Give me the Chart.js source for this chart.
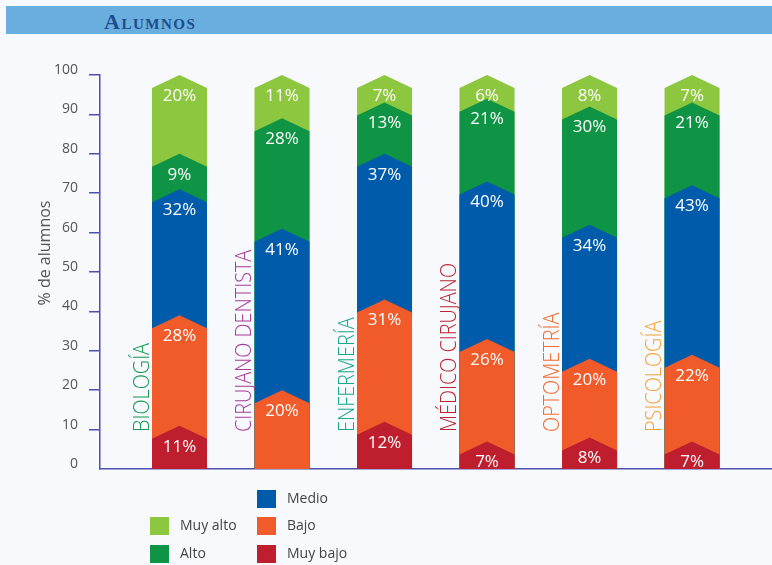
<!DOCTYPE html>
<html>
<head>
<meta charset="utf-8">
<script src="https://cdn.jsdelivr.net/npm/chart.js@4.4.0/dist/chart.umd.min.js"></script>
<style>
  html, body { margin: 0; padding: 0; }
  body { width: 772px; height: 565px; background: #f7f9fc; position: relative; overflow: hidden; }
  #title { position: absolute; left: 6px; top: 6px; width: 766px; height: 28px; background: #6aaddf; }
  #title span { position: absolute; left: 98px; top: 2px; line-height: 28px; font-family: 'Liberation Serif', serif; font-weight: bold; font-variant: small-caps; font-size: 22px; color: #1b4d8c; letter-spacing: 1.5px; }
  canvas { position: absolute; left: 0; top: 0; }
</style>
</head>
<body>
<div id="title"><span>Alumnos</span></div>
<canvas id="chart" width="772" height="565"></canvas>
<script>
// Data
const carreras = ['BIOLOGÍA', 'CIRUJANO DENTISTA', 'ENFERMERÍA', 'MÉDICO CIRUJANO', 'OPTOMETRÍA', 'PSICOLOGÍA'];
const muyBajo = [11, 0, 12, 7, 8, 7];
const bajo    = [28, 20, 31, 26, 20, 22];
const medio   = [32, 41, 37, 40, 34, 43];
const alto    = [9, 28, 13, 21, 30, 21];
const muyAlto = [20, 11, 7, 6, 8, 7];
const yTicks  = [0, 10, 20, 30, 40, 50, 60, 70, 80, 90, 100];

// Styles
const axisColor = '#4f4fae';
const labelColors = ['#16994f', '#a7399b', '#19a68a', '#b8252f', '#f26a2c', '#f7a23a'];
const chevron = 13;
// legend slots: [x, y] of each colour square, by dataset index
const legendSlots = [[257, 545], [257, 517], [257, 490], [150, 545], [150, 517]];

Chart.defaults.font.family = "'Open Sans', sans-serif";

const toPoints = arr => arr.map((v, i) => ({ x: i, y: v }));

const chevronPlugin = {
    id: 'chevronBars',
    beforeDatasetsDraw(chart) {
        const ctx = chart.ctx;
        const bottom = chart.scales.y.getPixelForValue(0);
        const sets = chart.data.datasets;
        ctx.save();
        // paint from the top segment down, so each lower chevron covers the one above
        for (let d = sets.length - 1; d >= 0; d--) {
            const meta = chart.getDatasetMeta(d);
            meta.data.forEach((bar, i) => {
                if (!sets[d].data[i].y) return;
                const half = bar.width / 2;
                ctx.beginPath();
                ctx.moveTo(bar.x - half, bar.y + chevron);
                ctx.lineTo(bar.x, bar.y);
                ctx.lineTo(bar.x + half, bar.y + chevron);
                ctx.lineTo(bar.x + half, bottom);
                ctx.lineTo(bar.x - half, bottom);
                ctx.closePath();
                ctx.fillStyle = sets[d].backgroundColor;
                ctx.fill();
            });
        }
        // value labels
        ctx.fillStyle = '#ffffff';
        ctx.font = "17px 'Open Sans', sans-serif";
        ctx.textAlign = 'center';
        ctx.textBaseline = 'middle';
        sets.forEach((ds, d) => {
            chart.getDatasetMeta(d).data.forEach((bar, i) => {
                const v = ds.data[i].y;
                if (!v) return;
                ctx.fillText(v + '%', bar.x, bar.y + 21);
            });
        });
        ctx.restore();
        return false;
    },
    afterDraw(chart) {
        const ctx = chart.ctx;
        const xs = chart.scales.x;
        ctx.save();
        // career names, vertical, left of each bar
        ctx.font = "300 22px 'Open Sans', sans-serif";
        ctx.textAlign = 'left';
        ctx.textBaseline = 'middle';
        carreras.forEach((name, i) => {
            const x = xs.getPixelForValue(i) - 37;
            ctx.save();
            ctx.translate(x, 432);
            ctx.rotate(-Math.PI / 2);
            ctx.scale(0.9, 1);
            ctx.fillStyle = labelColors[i];
            ctx.fillText(name, 0, 0);
            ctx.restore();
        });
        // y axis title
        ctx.save();
        ctx.translate(45, 253);
        ctx.rotate(-Math.PI / 2);
        ctx.fillStyle = '#555555';
        ctx.font = "16px 'Open Sans', sans-serif";
        ctx.textAlign = 'center';
        ctx.fillText('% de alumnos', 0, 0);
        ctx.restore();
        // legend
        ctx.font = "14px 'Open Sans', sans-serif";
        ctx.textAlign = 'left';
        chart.data.datasets.forEach((ds, d) => {
            const [lx, ly] = legendSlots[d];
            ctx.fillStyle = ds.backgroundColor;
            ctx.fillRect(lx, ly, 19, 18);
            ctx.fillStyle = '#444444';
            ctx.fillText(ds.label, lx + 30, ly + 9);
        });
        ctx.restore();
    }
};

new Chart(document.getElementById('chart'), {
    type: 'bar',
    data: {
        datasets: [
            { label: 'Muy bajo', data: toPoints(muyBajo), backgroundColor: '#be1e2d' },
            { label: 'Bajo', data: toPoints(bajo), backgroundColor: '#f15a29' },
            { label: 'Medio', data: toPoints(medio), backgroundColor: '#005baa' },
            { label: 'Alto', data: toPoints(alto), backgroundColor: '#0e9444' },
            { label: 'Muy alto', data: toPoints(muyAlto), backgroundColor: '#8dc63f' }
        ]
    },
    options: {
        responsive: false,
        animation: false,
        barThickness: 55,
        layout: { padding: { top: 75, bottom: 96, left: 0, right: 0 } },
        plugins: { legend: { display: false }, tooltip: { enabled: false } },
        scales: {
            x: {
                type: 'linear',
                stacked: true,
                offset: false,
                min: -0.7756,
                max: 5.78,
                ticks: { display: false },
                grid: { display: false },
                border: { color: axisColor, width: 1.5 },
                afterFit(scale) { scale.height = 0; }
            },
            y: {
                stacked: true,
                min: 0,
                max: 100,
                afterBuildTicks(scale) { scale.ticks = yTicks.map(v => ({ value: v })); },
                ticks: { color: '#555555', font: { size: 14 }, padding: 11, labelOffset: -5 },
                grid: {
                    drawOnChartArea: false,
                    tickLength: 11,
                    lineWidth: 1.5,
                    color: c => (c.tick && c.tick.value === 0 ? 'rgba(0,0,0,0)' : axisColor)
                },
                border: { color: axisColor, width: 1.5 },
                afterFit(scale) { scale.width = 100; }
            }
        }
    },
    plugins: [chevronPlugin]
});
</script>
</body>
</html>
